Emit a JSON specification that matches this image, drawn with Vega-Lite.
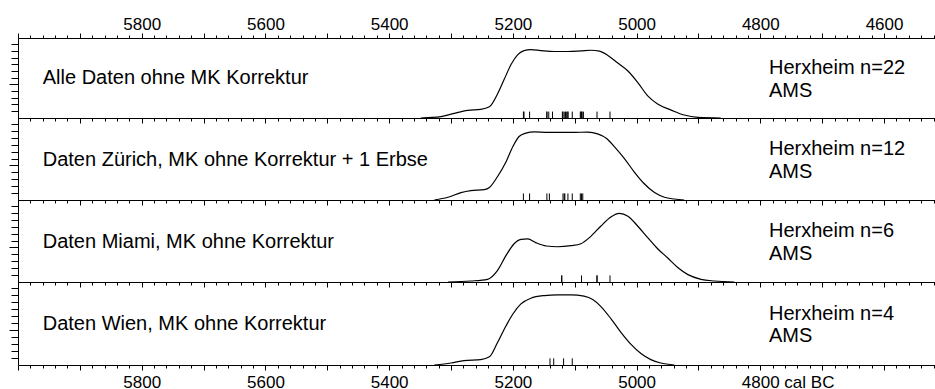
{
  "$schema": "https://vega.github.io/schema/vega-lite/v6.json",
  "padding": {"left": 8, "top": 14, "right": 0, "bottom": 0},
  "spacing": 0,
  "bounds": "flush",
  "config": {
    "view": {"stroke": "black", "strokeWidth": 1},
    "font": "Liberation Sans",
    "axis": {"labelFont": "Liberation Sans", "labelFontSize": 17, "labelColor": "black", "tickColor": "black", "tickWidth": 1, "domain": false, "grid": false, "labelFlush": false, "labelOverlap": false}
  },
  "datasets": {
    "curve": [
      {"p":1,"yr":5349,"d":0},{"p":1,"yr":5316,"d":1.7},{"p":1,"yr":5295,"d":5.8},{"p":1,"yr":5273,"d":9.5},{"p":1,"yr":5252,"d":10.7},{"p":1,"yr":5238,"d":14},{"p":1,"yr":5225,"d":29.8},{"p":1,"yr":5214,"d":48.3},{"p":1,"yr":5203,"d":66.9},{"p":1,"yr":5192,"d":79.3},{"p":1,"yr":5182,"d":84.3},{"p":1,"yr":5171,"d":85.5},{"p":1,"yr":5155,"d":84.3},{"p":1,"yr":5133,"d":83.1},{"p":1,"yr":5111,"d":83.1},{"p":1,"yr":5090,"d":83.9},{"p":1,"yr":5074,"d":84.7},{"p":1,"yr":5060,"d":83.5},{"p":1,"yr":5047,"d":78.5},{"p":1,"yr":5031,"d":69},{"p":1,"yr":5014,"d":58.7},{"p":1,"yr":4998,"d":44.2},{"p":1,"yr":4982,"d":27.7},{"p":1,"yr":4966,"d":17.4},{"p":1,"yr":4944,"d":9.9},{"p":1,"yr":4923,"d":3.7},{"p":1,"yr":4901,"d":0.8},{"p":1,"yr":4864,"d":0},
      {"p":2,"yr":5327,"d":0},{"p":2,"yr":5305,"d":3.3},{"p":2,"yr":5284,"d":9},{"p":2,"yr":5268,"d":11.5},{"p":2,"yr":5246,"d":12.7},{"p":2,"yr":5238,"d":15.2},{"p":2,"yr":5225,"d":28.3},{"p":2,"yr":5211,"d":46.7},{"p":2,"yr":5200,"d":65.2},{"p":2,"yr":5190,"d":77.5},{"p":2,"yr":5179,"d":81.6},{"p":2,"yr":5165,"d":83.2},{"p":2,"yr":5144,"d":82.4},{"p":2,"yr":5122,"d":82.4},{"p":2,"yr":5101,"d":82.4},{"p":2,"yr":5079,"d":82.8},{"p":2,"yr":5063,"d":80.7},{"p":2,"yr":5049,"d":75.4},{"p":2,"yr":5036,"d":65.2},{"p":2,"yr":5020,"d":50.8},{"p":2,"yr":5004,"d":34.4},{"p":2,"yr":4988,"d":20.1},{"p":2,"yr":4971,"d":9},{"p":2,"yr":4955,"d":3.3},{"p":2,"yr":4939,"d":1.2},{"p":2,"yr":4923,"d":0},
      {"p":3,"yr":5305,"d":0},{"p":3,"yr":5268,"d":1.2},{"p":3,"yr":5241,"d":3.3},{"p":3,"yr":5225,"d":13.9},{"p":3,"yr":5211,"d":32.4},{"p":3,"yr":5198,"d":46.7},{"p":3,"yr":5187,"d":52},{"p":3,"yr":5176,"d":52.5},{"p":3,"yr":5163,"d":48},{"p":3,"yr":5146,"d":43.9},{"p":3,"yr":5128,"d":43},{"p":3,"yr":5106,"d":44.3},{"p":3,"yr":5090,"d":46.7},{"p":3,"yr":5074,"d":55.7},{"p":3,"yr":5058,"d":68},{"p":3,"yr":5041,"d":79.5},{"p":3,"yr":5028,"d":83.6},{"p":3,"yr":5014,"d":80.3},{"p":3,"yr":4998,"d":68},{"p":3,"yr":4982,"d":54.1},{"p":3,"yr":4966,"d":40.6},{"p":3,"yr":4950,"d":29.5},{"p":3,"yr":4934,"d":18},{"p":3,"yr":4917,"d":9},{"p":3,"yr":4896,"d":3.3},{"p":3,"yr":4874,"d":1.2},{"p":3,"yr":4842,"d":0},
      {"p":4,"yr":5327,"d":0},{"p":4,"yr":5300,"d":2.4},{"p":4,"yr":5279,"d":5.3},{"p":4,"yr":5252,"d":6.5},{"p":4,"yr":5238,"d":9.8},{"p":4,"yr":5225,"d":26.8},{"p":4,"yr":5211,"d":47.2},{"p":4,"yr":5200,"d":61.4},{"p":4,"yr":5187,"d":73.6},{"p":4,"yr":5171,"d":80.5},{"p":4,"yr":5149,"d":83.7},{"p":4,"yr":5128,"d":84.6},{"p":4,"yr":5106,"d":84.6},{"p":4,"yr":5085,"d":82.9},{"p":4,"yr":5071,"d":78.9},{"p":4,"yr":5058,"d":70.7},{"p":4,"yr":5041,"d":55.3},{"p":4,"yr":5025,"d":39},{"p":4,"yr":5009,"d":24.8},{"p":4,"yr":4993,"d":13.8},{"p":4,"yr":4977,"d":6.5},{"p":4,"yr":4961,"d":2.4},{"p":4,"yr":4939,"d":0}
    ],
    "rug": [
      {"p":1,"yr":5183},{"p":1,"yr":5182},{"p":1,"yr":5173},{"p":1,"yr":5145},{"p":1,"yr":5145},{"p":1,"yr":5142},{"p":1,"yr":5136},{"p":1,"yr":5120},{"p":1,"yr":5119},{"p":1,"yr":5117},{"p":1,"yr":5115},{"p":1,"yr":5113},{"p":1,"yr":5111},{"p":1,"yr":5111},{"p":1,"yr":5104},{"p":1,"yr":5091},{"p":1,"yr":5090},{"p":1,"yr":5089},{"p":1,"yr":5088},{"p":1,"yr":5086},{"p":1,"yr":5064},{"p":1,"yr":5043},
      {"p":2,"yr":5183},{"p":2,"yr":5173},{"p":2,"yr":5145},{"p":2,"yr":5141},{"p":2,"yr":5119},{"p":2,"yr":5117},{"p":2,"yr":5116},{"p":2,"yr":5111},{"p":2,"yr":5104},{"p":2,"yr":5091},{"p":2,"yr":5089},{"p":2,"yr":5087},
      {"p":3,"yr":5121},{"p":3,"yr":5121},{"p":3,"yr":5089},{"p":3,"yr":5064},{"p":3,"yr":5064},{"p":3,"yr":5043},
      {"p":4,"yr":5140},{"p":4,"yr":5134},{"p":4,"yr":5118},{"p":4,"yr":5104}
    ],
    "labels": [
      {"p":1,"left":"Alle Daten ohne MK Korrektur","right":"Herxheim n=22\nAMS"},
      {"p":2,"left":"Daten Zürich, MK ohne Korrektur + 1 Erbse","right":"Herxheim n=12\nAMS"},
      {"p":3,"left":"Daten Miami, MK ohne Korrektur","right":"Herxheim n=6\nAMS"},
      {"p":4,"left":"Daten Wien, MK ohne Korrektur","right":"Herxheim n=4\nAMS"}
    ]
  },
  "vconcat": [
    {
      "width": 918, "height": 80,
      "layer": [
        {"data": {"name": "curve"}, "transform": [{"filter": "datum.p === 1"}],
         "mark": {"type": "line", "color": "black", "strokeWidth": 1.2, "interpolate": "monotone"},
         "encoding": {
           "x": {"field": "yr", "type": "quantitative", "title": null, "scale": {"domain": [4516, 6000], "reverse": true, "nice": false, "zero": false},
                 "axis": {"orient": "top", "labelOverlap": false, "tickCount": 300, "values": [4520,4540,4560,4580,4600,4620,4640,4660,4680,4700,4720,4740,4760,4780,4800,4820,4840,4860,4880,4900,4920,4940,4960,4980,5000,5020,5040,5060,5080,5100,5120,5140,5160,5180,5200,5220,5240,5260,5280,5300,5320,5340,5360,5380,5400,5420,5440,5460,5480,5500,5520,5540,5560,5580,5600,5620,5640,5660,5680,5700,5720,5740,5760,5780,5800,5820,5840,5860,5880,5900,5920,5940,5960,5980,6000],
                          "labelExpr": "datum.value % 200 === 0 && datum.value < 6000 ? '' + datum.value : ''",
                          "tickSize": {"condition": {"test": "datum.value % 100 === 0", "value": 5}, "value": 3},
                          "labelPadding": 0}},
           "y": {"field": "d", "type": "quantitative", "title": null, "scale": {"domain": [0, 100], "nice": false},
                 "axis": {"tickCount": 100, "values": [8.75,17.1,25.45,33.8,42.15,50.5,58.85,67.2,75.55,83.9,92.25], "labels": false,
                          "tickSize": {"condition": {"test": "abs(datum.value - 42.15) < 0.1", "value": 9}, "value": 7}}}
         }},
        {"data": {"name": "rug"}, "transform": [{"filter": "datum.p === 1"}],
         "mark": {"type": "rule", "color": "black", "strokeWidth": 1},
         "encoding": {"x": {"field": "yr", "type": "quantitative", "title": null}, "y": {"datum": 0, "title": null}, "y2": {"datum": 8}}},
        {"data": {"name": "labels"}, "transform": [{"filter": "datum.p === 1"}],
         "mark": {"type": "text", "align": "left", "baseline": "alphabetic", "fontSize": 20, "font": "Liberation Sans", "color": "black"},
         "encoding": {"x": {"datum": 5960, "title": null}, "y": {"datum": 42, "title": null}, "text": {"field": "left"}}},
        {"data": {"name": "labels"}, "transform": [{"filter": "datum.p === 1"}],
         "mark": {"type": "text", "align": "left", "baseline": "alphabetic", "fontSize": 20, "font": "Liberation Sans", "color": "black", "lineBreak": "\n", "lineHeight": 22.7},
         "encoding": {"x": {"datum": 4786, "title": null}, "y": {"datum": 54.6, "title": null}, "text": {"field": "right"}}}
      ]
    },
    {
      "width": 918, "height": 82,
      "layer": [
        {"data": {"name": "curve"}, "transform": [{"filter": "datum.p === 2"}],
         "mark": {"type": "line", "color": "black", "strokeWidth": 1.2, "interpolate": "monotone"},
         "encoding": {
           "x": {"field": "yr", "type": "quantitative", "title": null, "scale": {"domain": [4516, 6000], "reverse": true, "nice": false, "zero": false},
                 "axis": {"orient": "top", "tickCount": 300, "values": [4520,4540,4560,4580,4600,4620,4640,4660,4680,4700,4720,4740,4760,4780,4800,4820,4840,4860,4880,4900,4920,4940,4960,4980,5000,5020,5040,5060,5080,5100,5120,5140,5160,5180,5200,5220,5240,5260,5280,5300,5320,5340,5360,5380,5400,5420,5440,5460,5480,5500,5520,5540,5560,5580,5600,5620,5640,5660,5680,5700,5720,5740,5760,5780,5800,5820,5840,5860,5880,5900,5920,5940,5960,5980,6000],
                          "labels": false,
                          "tickSize": {"condition": {"test": "datum.value % 100 === 0", "value": -5}, "value": -3}}},
           "y": {"field": "d", "type": "quantitative", "title": null, "scale": {"domain": [0, 100], "nice": false},
                 "axis": {"tickCount": 100, "values": [8.75,17.1,25.45,33.8,42.15,50.5,58.85,67.2,75.55,83.9,92.25], "labels": false,
                          "tickSize": {"condition": {"test": "abs(datum.value - 42.15) < 0.1", "value": 9}, "value": 7}}}
         }},
        {"data": {"name": "rug"}, "transform": [{"filter": "datum.p === 2"}],
         "mark": {"type": "rule", "color": "black", "strokeWidth": 1},
         "encoding": {"x": {"field": "yr", "type": "quantitative", "title": null}, "y": {"datum": 0, "title": null}, "y2": {"datum": 8}}},
        {"data": {"name": "labels"}, "transform": [{"filter": "datum.p === 2"}],
         "mark": {"type": "text", "align": "left", "baseline": "alphabetic", "fontSize": 20, "font": "Liberation Sans", "color": "black"},
         "encoding": {"x": {"datum": 5960, "title": null}, "y": {"datum": 42, "title": null}, "text": {"field": "left"}}},
        {"data": {"name": "labels"}, "transform": [{"filter": "datum.p === 2"}],
         "mark": {"type": "text", "align": "left", "baseline": "alphabetic", "fontSize": 20, "font": "Liberation Sans", "color": "black", "lineBreak": "\n", "lineHeight": 22.7},
         "encoding": {"x": {"datum": 4786, "title": null}, "y": {"datum": 54.6, "title": null}, "text": {"field": "right"}}}
      ]
    },
    {
      "width": 918, "height": 82,
      "layer": [
        {"data": {"name": "curve"}, "transform": [{"filter": "datum.p === 3"}],
         "mark": {"type": "line", "color": "black", "strokeWidth": 1.2, "interpolate": "monotone"},
         "encoding": {
           "x": {"field": "yr", "type": "quantitative", "title": null, "scale": {"domain": [4516, 6000], "reverse": true, "nice": false, "zero": false},
                 "axis": {"orient": "top", "tickCount": 300, "values": [4520,4540,4560,4580,4600,4620,4640,4660,4680,4700,4720,4740,4760,4780,4800,4820,4840,4860,4880,4900,4920,4940,4960,4980,5000,5020,5040,5060,5080,5100,5120,5140,5160,5180,5200,5220,5240,5260,5280,5300,5320,5340,5360,5380,5400,5420,5440,5460,5480,5500,5520,5540,5560,5580,5600,5620,5640,5660,5680,5700,5720,5740,5760,5780,5800,5820,5840,5860,5880,5900,5920,5940,5960,5980,6000],
                          "labels": false,
                          "tickSize": {"condition": {"test": "datum.value % 100 === 0", "value": -5}, "value": -3}}},
           "y": {"field": "d", "type": "quantitative", "title": null, "scale": {"domain": [0, 100], "nice": false},
                 "axis": {"tickCount": 100, "values": [8.75,17.1,25.45,33.8,42.15,50.5,58.85,67.2,75.55,83.9,92.25], "labels": false,
                          "tickSize": {"condition": {"test": "abs(datum.value - 42.15) < 0.1", "value": 9}, "value": 7}}}
         }},
        {"data": {"name": "rug"}, "transform": [{"filter": "datum.p === 3"}],
         "mark": {"type": "rule", "color": "black", "strokeWidth": 1},
         "encoding": {"x": {"field": "yr", "type": "quantitative", "title": null}, "y": {"datum": 0, "title": null}, "y2": {"datum": 8}}},
        {"data": {"name": "labels"}, "transform": [{"filter": "datum.p === 3"}],
         "mark": {"type": "text", "align": "left", "baseline": "alphabetic", "fontSize": 20, "font": "Liberation Sans", "color": "black"},
         "encoding": {"x": {"datum": 5960, "title": null}, "y": {"datum": 42, "title": null}, "text": {"field": "left"}}},
        {"data": {"name": "labels"}, "transform": [{"filter": "datum.p === 3"}],
         "mark": {"type": "text", "align": "left", "baseline": "alphabetic", "fontSize": 20, "font": "Liberation Sans", "color": "black", "lineBreak": "\n", "lineHeight": 22.7},
         "encoding": {"x": {"datum": 4786, "title": null}, "y": {"datum": 54.6, "title": null}, "text": {"field": "right"}}}
      ]
    },
    {
      "width": 918, "height": 83,
      "resolve": {"axis": {"x": "independent"}},
      "layer": [
        {
          "layer": [
            {"data": {"name": "curve"}, "transform": [{"filter": "datum.p === 4"}],
             "mark": {"type": "line", "color": "black", "strokeWidth": 1.2, "interpolate": "monotone"},
             "encoding": {
               "x": {"field": "yr", "type": "quantitative", "title": null, "scale": {"domain": [4516, 6000], "reverse": true, "nice": false, "zero": false},
                     "axis": {"orient": "top", "tickCount": 300, "values": [4520,4540,4560,4580,4600,4620,4640,4660,4680,4700,4720,4740,4760,4780,4800,4820,4840,4860,4880,4900,4920,4940,4960,4980,5000,5020,5040,5060,5080,5100,5120,5140,5160,5180,5200,5220,5240,5260,5280,5300,5320,5340,5360,5380,5400,5420,5440,5460,5480,5500,5520,5540,5560,5580,5600,5620,5640,5660,5680,5700,5720,5740,5760,5780,5800,5820,5840,5860,5880,5900,5920,5940,5960,5980,6000],
                              "labels": false,
                              "tickSize": {"condition": {"test": "datum.value % 100 === 0", "value": -5}, "value": -3}}},
               "y": {"field": "d", "type": "quantitative", "title": null, "scale": {"domain": [0, 100], "nice": false},
                     "axis": {"tickCount": 100, "values": [8.75,17.1,25.45,33.8,42.15,50.5,58.85,67.2,75.55,83.9,92.25], "labels": false,
                              "tickSize": {"condition": {"test": "abs(datum.value - 42.15) < 0.1", "value": 9}, "value": 7}}}
             }},
            {"data": {"name": "labels"}, "transform": [{"filter": "datum.p === 4"}],
             "mark": {"type": "text", "align": "left", "baseline": "alphabetic", "fontSize": 20, "font": "Liberation Sans", "color": "black"},
             "encoding": {"x": {"datum": 5960, "title": null}, "y": {"datum": 42, "title": null}, "text": {"field": "left"}}},
            {"data": {"name": "labels"}, "transform": [{"filter": "datum.p === 4"}],
             "mark": {"type": "text", "align": "left", "baseline": "alphabetic", "fontSize": 20, "font": "Liberation Sans", "color": "black", "lineBreak": "\n", "lineHeight": 22.7},
             "encoding": {"x": {"datum": 4786, "title": null}, "y": {"datum": 54.6, "title": null}, "text": {"field": "right"}}}
          ]
        },
        {"data": {"name": "rug"}, "transform": [{"filter": "datum.p === 4"}],
         "mark": {"type": "rule", "color": "black", "strokeWidth": 1},
         "encoding": {"x": {"field": "yr", "type": "quantitative", "title": null,
                 "axis": {"orient": "bottom", "labelOverlap": false, "tickCount": 300, "values": [4520,4540,4560,4580,4600,4620,4640,4660,4680,4700,4720,4740,4760,4780,4800,4820,4840,4860,4880,4900,4920,4940,4960,4980,5000,5020,5040,5060,5080,5100,5120,5140,5160,5180,5200,5220,5240,5260,5280,5300,5320,5340,5360,5380,5400,5420,5440,5460,5480,5500,5520,5540,5560,5580,5600,5620,5640,5660,5680,5700,5720,5740,5760,5780,5800,5820,5840,5860,5880,5900,5920,5940,5960,5980,6000],
                          "labelExpr": "datum.value === 4800 ? '4800 cal BC' : (datum.value % 200 === 0 && datum.value > 4800 && datum.value < 6000 ? '' + datum.value : '')",
                          "labelAlign": {"condition": {"test": "datum.value === 4800", "value": "left"}, "value": "center"},
                          "labelOffset": {"condition": {"test": "datum.value === 4800", "value": -19}, "value": 0},
                          "tickSize": {"condition": {"test": "datum.value % 100 === 0", "value": 5}, "value": 3},
                          "labelPadding": 4}},
                 "y": {"datum": 0, "title": null}, "y2": {"datum": 8}}}
      ]
    }
  ]
}
